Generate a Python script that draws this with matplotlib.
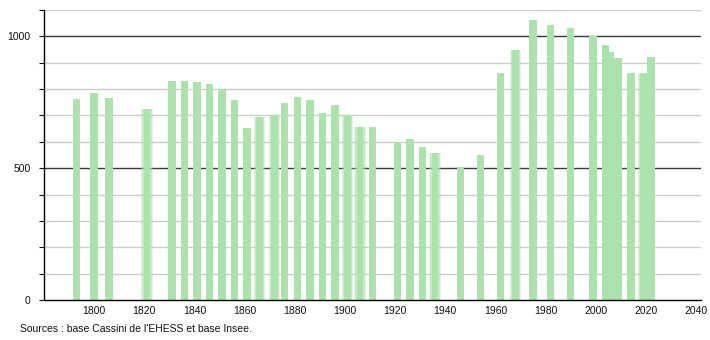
import matplotlib
matplotlib.use("Agg")
import matplotlib.pyplot as plt

plt.rcParams['font.family'] = ['Liberation Sans', 'DejaVu Sans']

years = [1793, 1800, 1806, 1821, 1831, 1836, 1841, 1846, 1851, 1856,
         1861, 1866, 1872, 1876, 1881, 1886, 1891, 1896, 1901, 1906,
         1911, 1921, 1926, 1931, 1936, 1946, 1954, 1962, 1968, 1975,
         1982, 1990, 1999, 2004, 2006, 2009, 2014, 2019, 2022]
population = [764, 784, 765, 723, 830, 830, 826, 818, 799, 757,
              651, 693, 698, 749, 769, 757, 711, 738, 700, 657,
              655, 600, 609, 582, 556, 505, 549, 860, 947, 1061,
              1043, 1030, 1000, 967, 941, 919, 860, 860, 921]
# bars that look smeared in the original rendering
fuzzy_years = [1821, 1866, 1872, 1901, 1906, 1936, 1968, 2019]

x_ticks = list(range(1800, 2041, 20))
source_text = "Sources : base Cassini de l'EHESS et base Insee."

bar_color = '#ace3ac'

fig = plt.figure(figsize=(7.1, 3.4), dpi=100)
ax = fig.add_axes([44/710, 40/340, 657/710, 290/340])

# grid: light every 100, dark at 500 / 1000
for v in range(100, 1101, 100):
    if v % 500 == 0:
        ax.axhline(v, color='#3a3a3a', lw=1, zorder=0)
    else:
        ax.axhline(v, color='#cccccc', lw=1, zorder=0)

for yr, pop in zip(years, population):
    if yr in fuzzy_years:
        ax.bar(yr, pop, width=4.6, color=bar_color, alpha=0.35, lw=0, zorder=2)
        ax.bar(yr, pop, width=3.8, color=bar_color, alpha=0.5, lw=0, zorder=2)
        ax.bar(yr, pop, width=2.6, color=bar_color, lw=0, zorder=2)
    else:
        ax.bar(yr, pop, width=3.0, color=bar_color, lw=0, zorder=2)

ax.set_xlim(1780, 2042)
ax.set_ylim(0, 1100)

ax.set_xticks(x_ticks)
ax.set_yticks([0, 500, 1000])
ax.set_yticks(range(0, 1101, 100), minor=True)
ax.tick_params(axis='x', length=0, pad=4, labelsize=7.5, colors='#111111')
ax.tick_params(axis='y', which='both', length=3.5, width=0.8, pad=6, labelsize=7.5, colors='#111111')

for s in ['top', 'right']:
    ax.spines[s].set_visible(False)
ax.spines['left'].set_linewidth(1)
ax.spines['bottom'].set_linewidth(1)
ax.spines['left'].set_zorder(3)
ax.spines['bottom'].set_zorder(3)

fig.text(20/710, 1 - 329/340, source_text, fontsize=7.5, va='center', ha='left', color='#111111')

fig.savefig('out.png', dpi=100)
